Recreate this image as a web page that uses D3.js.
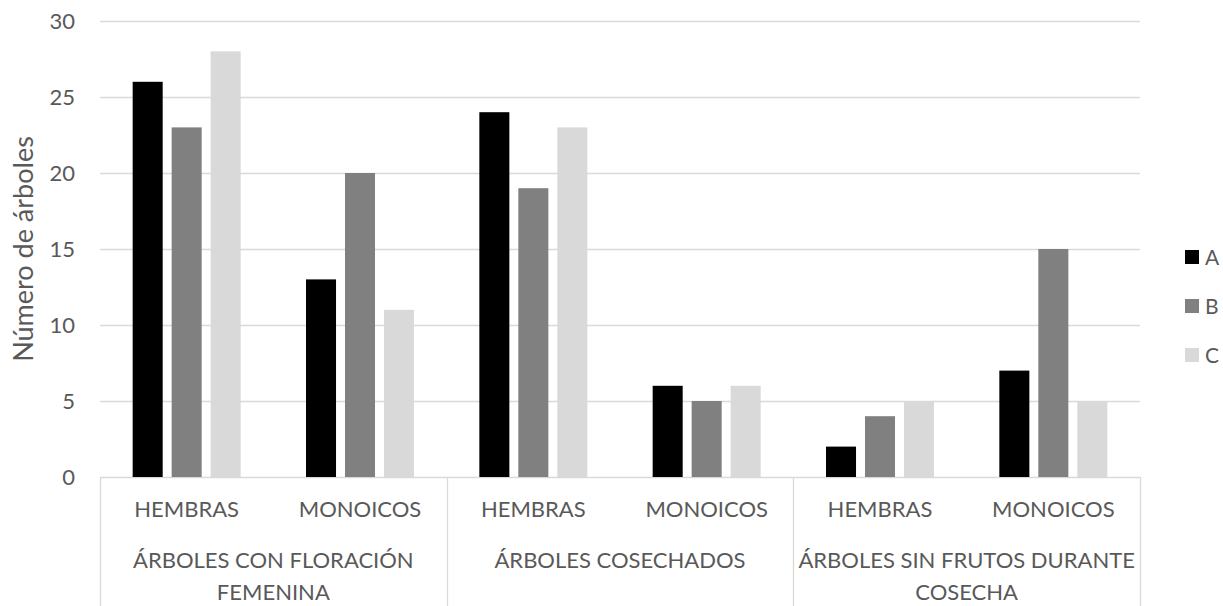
<!DOCTYPE html>
<html>
<head>
<meta charset="utf-8">
<script src="https://cdn.jsdelivr.net/npm/d3@7"></script>
<style>
  html, body { margin: 0; padding: 0; background: #fff; }
  svg { display: block; font-family: Lato, "Open Sans", sans-serif; }
</style>
</head>
<body>
<svg id="chart" width="1223" height="606"></svg>
<script>
// Groups of trees and their sub-categories
const groups = [
  ["ÁRBOLES CON FLORACIÓN", "FEMENINA"],
  ["ÁRBOLES COSECHADOS"],
  ["ÁRBOLES SIN FRUTOS DURANTE", "COSECHA"]
];
const subcategories = ["HEMBRAS", "MONOICOS"];
const seriesNames = ["A", "B", "C"];
const seriesColors = ["#000000", "#808080", "#d9d9d9"];

// Counts per series, in order: group1 HEMBRAS, group1 MONOICOS, group2 ..., group3 ...
const valuesA = [26, 13, 24, 6, 2, 7];
const valuesB = [23, 20, 19, 5, 4, 15];
const valuesC = [28, 11, 23, 6, 5, 5];
const yTicks = [0, 5, 10, 15, 20, 25, 30];
const yTitle = "Número de árboles";

const series = [valuesA, valuesB, valuesC];
const svg = d3.select("#chart");
const textColor = "#595959";
const lineColor = "#d9d9d9";

const plotLeft = 100, plotRight = 1140, plotTop = 21, plotBottom = 477;

// One band per sub-category position
const slots = d3.range(groups.length * subcategories.length);
const x = d3.scaleBand().domain(slots).range([plotLeft, plotRight]).paddingInner(0).paddingOuter(0);
const xInner = d3.scaleBand().domain(seriesNames).range([0, 108]).paddingInner(0.23);
const y = d3.scaleLinear().domain([0, 30]).range([plotBottom, plotTop]);

// Horizontal gridlines
svg.append("g")
  .selectAll("line")
  .data(yTicks)
  .join("line")
  .attr("x1", plotLeft).attr("x2", plotRight)
  .attr("y1", d => y(d) + 0.5).attr("y2", d => y(d) + 0.5)
  .attr("stroke", lineColor).attr("stroke-width", 1.3);

// Y tick labels
svg.append("g")
  .selectAll("text")
  .data(yTicks)
  .join("text")
  .attr("x", 75).attr("y", d => y(d))
  .attr("dy", "0.35em")
  .attr("text-anchor", "end")
  .attr("fill", textColor)
  .attr("font-size", 22)
  .text(d => d);

// Y axis title
svg.append("text")
  .attr("transform", `translate(33, ${(plotTop + plotBottom) / 2}) rotate(-90)`)
  .attr("text-anchor", "middle")
  .attr("fill", textColor)
  .attr("font-size", 27)
  .text(yTitle);

// Bars
const barGroups = svg.append("g");
series.forEach((vals, si) => {
  barGroups.append("g")
    .selectAll("rect")
    .data(vals)
    .join("rect")
    .attr("x", (d, i) => x(i) + (x.bandwidth() - 108) / 2 + xInner(seriesNames[si]))
    .attr("width", xInner.bandwidth())
    .attr("y", d => y(d))
    .attr("height", d => y(0) - y(d))
    .attr("fill", seriesColors[si]);
});

// Category axis frame: left edge and separators between groups
const groupWidth = x.bandwidth() * subcategories.length;
const sepXs = d3.range(groups.length + 1).map(g => plotLeft + g * groupWidth);
svg.append("g")
  .selectAll("line")
  .data(sepXs)
  .join("line")
  .attr("x1", d => Math.round(d) + 0.5).attr("x2", d => Math.round(d) + 0.5)
  .attr("y1", plotBottom).attr("y2", 606)
  .attr("stroke", lineColor).attr("stroke-width", 1.3);

// Sub-category labels
svg.append("g")
  .selectAll("text")
  .data(slots)
  .join("text")
  .attr("x", i => x(i) + x.bandwidth() / 2)
  .attr("y", 517)
  .attr("text-anchor", "middle")
  .attr("fill", textColor)
  .attr("font-size", 22)
  .text(i => subcategories[i % subcategories.length]);

// Group labels (wrapped lines)
const gl = svg.append("g")
  .selectAll("text")
  .data(groups)
  .join("text")
  .attr("text-anchor", "middle")
  .attr("fill", textColor)
  .attr("font-size", 22);
gl.each(function(lines, g) {
  const cx = plotLeft + g * groupWidth + groupWidth / 2;
  d3.select(this).selectAll("tspan")
    .data(lines)
    .join("tspan")
    .attr("x", cx)
    .attr("y", (d, k) => 568 + k * 32)
    .text(d => d);
});

// Legend
const legend = svg.append("g")
  .selectAll("g")
  .data(seriesNames)
  .join("g")
  .attr("transform", (d, i) => `translate(1185, ${257 + i * 49})`);
legend.append("rect")
  .attr("x", 0).attr("y", -7).attr("width", 14).attr("height", 14)
  .attr("fill", (d, i) => seriesColors[i]);
legend.append("text")
  .attr("x", 20).attr("y", 0).attr("dy", "0.36em")
  .attr("fill", textColor)
  .attr("font-size", 21)
  .text(d => d);
</script>
</body>
</html>
